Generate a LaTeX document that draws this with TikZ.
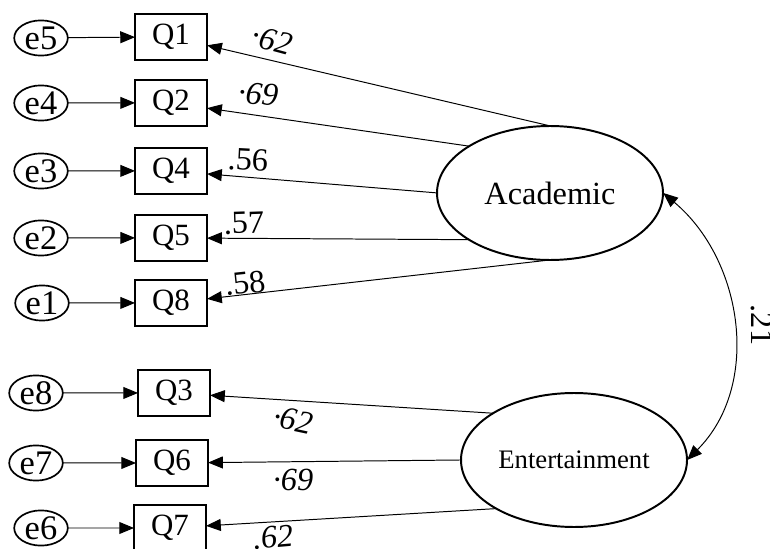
\documentclass[tikz,border=0pt]{standalone}
\usepackage{fontspec}
\setmainfont{Liberation Serif}
\usepackage{tikz,tkz-graph}
\usetikzlibrary{arrows.meta,shapes.geometric}
\tikzstyle{errorStyle}=[shape = ellipse, minimum width = 1.34cm, minimum height = 0.88cm, inner sep = 0pt, line width = 1.2pt, draw, font = \fontsize{24.5}{24.5}\selectfont]
\tikzstyle{itemStyle}=[shape = rectangle, minimum width = 1.8cm, minimum height = 1.15cm, inner sep = 0pt, line width = 1.4pt, draw, font = \fontsize{22}{22}\selectfont]
\tikzstyle{academicStyle}=[shape = ellipse, minimum width = 5.65cm, minimum height = 3.35cm, inner sep = 0pt, line width = 1.4pt, draw, font = \fontsize{23}{23}\selectfont]
\tikzstyle{entStyle}=[shape = ellipse, minimum width = 5.65cm, minimum height = 3.35cm, inner sep = 0pt, line width = 1.4pt, draw, font = \fontsize{19}{19}\selectfont]
\tikzstyle{arrowStyle}=[line width = 0.7pt, -{Triangle[length = 10.5pt, width = 8.5pt]}]
\tikzstyle{covStyle}=[line width = 0.7pt, {Triangle[length = 10.5pt, width = 8.5pt]}-{Triangle[length = 10.5pt, width = 8.5pt]}]
\tikzstyle{coefStyle}=[inner sep = 0pt, font = \fontsize{23}{23}\selectfont]

\begin{document}
\begin{tikzpicture}[scale = 2.5]
\tikzstyle{VertexStyle} = []
\tikzstyle{EdgeStyle} = []
\useasboundingbox (0,0) rectangle (7.70,5.48);
% latent factors
\Vertex[style = academicStyle, x = 5.50, y = 3.55, L = {Academic}]{Acad}
\Vertex[style = entStyle, x = 5.74, y = 0.88, L = {Entertainment}]{Ent}
% items
\Vertex[style = itemStyle, x = 1.71, y = 5.11, L = {Q1}]{q1}
\Vertex[style = itemStyle, x = 1.71, y = 4.45, L = {Q2}]{q2}
\Vertex[style = itemStyle, x = 1.71, y = 3.77, L = {Q4}]{q4}
\Vertex[style = itemStyle, x = 1.71, y = 3.10, L = {Q5}]{q5}
\Vertex[style = itemStyle, x = 1.71, y = 2.45, L = {Q8}]{q8}
\Vertex[style = itemStyle, x = 1.74, y = 1.55, L = {Q3}]{q3}
\Vertex[style = itemStyle, x = 1.72, y = 0.85, L = {Q6}]{q6}
\Vertex[style = itemStyle, x = 1.70, y = 0.20, L = {Q7}]{q7}
% errors
\Vertex[style = errorStyle, x = 0.41, y = 5.10, L = {e5}]{e5}
\Vertex[style = errorStyle, x = 0.41, y = 4.45, L = {e4}]{e4}
\Vertex[style = errorStyle, x = 0.41, y = 3.77, L = {e3}]{e3}
\Vertex[style = errorStyle, x = 0.41, y = 3.10, L = {e2}]{e2}
\Vertex[style = errorStyle, x = 0.42, y = 2.45, L = {e1}]{e1}
\Vertex[style = errorStyle, x = 0.36, y = 1.55, L = {e8}]{e8}
\Vertex[style = errorStyle, x = 0.36, y = 0.85, L = {e7}]{e7}
\Vertex[style = errorStyle, x = 0.41, y = 0.20, L = {e6}]{e6}
\Edge[style = arrowStyle](e5)(q1)
\Edge[style = arrowStyle](e4)(q2)
\Edge[style = arrowStyle](e3)(q4)
\Edge[style = arrowStyle](e2)(q5)
\Edge[style = arrowStyle](e1)(q8)
\Edge[style = arrowStyle](e8)(q3)
\Edge[style = arrowStyle](e7)(q6)
\Edge[style = arrowStyle](e6)(q7)
\Edge[style = arrowStyle](Acad.north)(q1)
\Edge[style = arrowStyle](Acad.150)(q2)
\Edge[style = arrowStyle](Acad.west)(q4)
\Edge[style = arrowStyle](Acad.210)(q5)
\Edge[style = arrowStyle](Acad.south)(q8)
\Edge[style = arrowStyle](Ent.150)(q3)
\Edge[style = arrowStyle](Ent.west)(q6)
\Edge[style = arrowStyle](Ent.212)(q7)
\Edge[style = {covStyle, out = -40, in = 45}](Acad.east)(Ent.east)
% coefficients
\node[coefStyle, rotate = -15] (c1) at (2.72, 5.08) {\itshape ·62};
\node[coefStyle, rotate = -6] (c2) at (2.58, 4.54) {\itshape ·69};
\node[coefStyle, rotate = -3] (c3) at (2.48, 3.88) {.56};
\node[coefStyle, rotate = 2] (c4) at (2.44, 3.25) {.57};
\node[coefStyle, rotate = 6] (c5) at (2.45, 2.65) {.58};
\node[coefStyle, rotate = -12] (c6) at (2.93, 1.28) {\itshape ·62};
\node[coefStyle] (c7) at (2.93, 0.68) {\itshape ·69};
\node[coefStyle, rotate = 5] (c8) at (2.73, 0.11) {\itshape .62};
\node[coefStyle, rotate = -90] (c9) at (7.62, 2.23) {.21};
\end{tikzpicture}
\end{document}
